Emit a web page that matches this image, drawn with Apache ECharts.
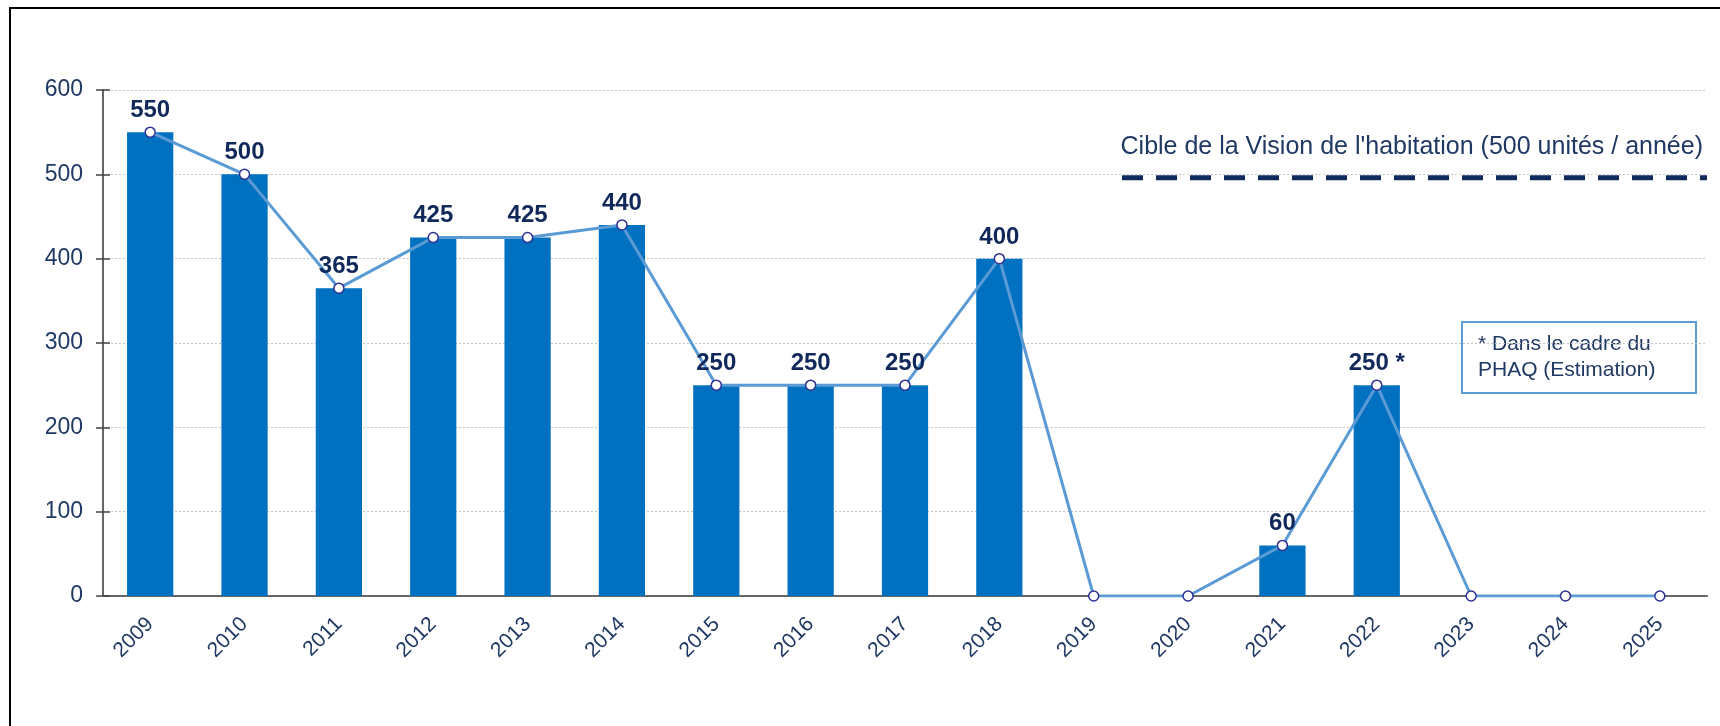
<!DOCTYPE html>
<html>
<head>
<meta charset="utf-8">
<script src="https://cdn.jsdelivr.net/npm/echarts@6/dist/echarts.min.js"></script>
<style>
	html, body { margin: 0; padding: 0; background: #fff; }
	#main { width: 1720px; height: 726px; }
</style>
</head>
<body>
<div id="main"></div>
<script>
var years = ['2009', '2010', '2011', '2012', '2013', '2014', '2015', '2016', '2017', '2018', '2019', '2020', '2021', '2022', '2023', '2024', '2025'];
var units = [550, 500, 365, 425, 425, 440, 250, 250, 250, 400, 0, 0, 60, 250, 0, 0, 0];
var estimatedYears = ['2022'];
var yTicks = [0, 100, 200, 300, 400, 500, 600];
// cible de la vision : ligne tiretée sur la fin du graphique
var targetValue = 496;
var targetSpan = [10.8, 17];
var targetLabel = "Cible de la Vision de l'habitation (500 unités / année)";
var noteLines = ['* Dans le cadre du', 'PHAQ (Estimation)'];

var navy = '#1f3864';
var font = 'Liberation Sans, Arial, sans-serif';

var myChart = echarts.init(document.getElementById('main'));
var option = {
	animation: false,
	grid: {
		left: 103,
		right: 13,
		top: 90,
		bottom: 130
	},
	xAxis: [{
		type: 'category',
		data: years,
		position: 'bottom',
		axisLine: { lineStyle: { color: '#666', width: 2 } },
		axisTick: { length: 7, lineStyle: { color: '#444', width: 1.5 } },
		axisLabel: {
			rotate: 45,
			color: navy,
			fontSize: 21,
			fontFamily: font,
			margin: 25
		}
	}, {
		type: 'category',
		data: years,
		position: 'bottom',
		axisLine: { show: false },
		axisTick: { inside: true, length: 7, lineStyle: { color: '#444', width: 1.5 } },
		axisLabel: { show: false }
	}, {
		type: 'value',
		position: 'top',
		min: 0,
		max: years.length,
		show: false
	}],
	yAxis: [{
		type: 'value',
		min: yTicks[0],
		max: yTicks[yTicks.length - 1],
		interval: yTicks[1] - yTicks[0],
		position: 'left',
		axisLine: { show: true, lineStyle: { color: '#666', width: 2 } },
		axisTick: { show: true, length: 7, lineStyle: { color: '#444', width: 1.5 } },
		axisLabel: {
			color: navy,
			fontSize: 23,
			fontFamily: font,
			margin: 20
		},
		splitLine: { lineStyle: { color: '#c4c4c4', type: [2, 2], width: 1 } }
	}, {
		type: 'value',
		min: yTicks[0],
		max: yTicks[yTicks.length - 1],
		interval: yTicks[1] - yTicks[0],
		position: 'left',
		axisLine: { show: false },
		axisTick: { show: true, inside: true, length: 7, lineStyle: { color: '#444', width: 1.5 } },
		axisLabel: { show: false },
		splitLine: { show: false }
	}],
	series: [{
		name: 'Unités',
		type: 'bar',
		data: units,
		barWidth: '49%',
		itemStyle: { color: '#0070c0' },
		z: 2
	}, {
		name: 'Tendance',
		type: 'line',
		data: units,
		symbol: 'circle',
		symbolSize: 10,
		lineStyle: { color: '#5b9bd5', width: 3 },
		itemStyle: { color: '#fff', borderColor: '#2e3192', borderWidth: 1.5 },
		label: {
			show: true,
			position: 'top',
			distance: 4,
			color: '#10285a',
			fontSize: 24,
			fontWeight: 'bold',
			fontFamily: font,
			formatter: function(p) {
				if (!p.value) return '';
				return estimatedYears.indexOf(p.name) >= 0 ? p.value + ' *' : String(p.value);
			}
		},
		z: 3
	}, {
		name: 'Cible',
		type: 'line',
		xAxisIndex: 2,
		data: [[targetSpan[0], targetValue], [targetSpan[1], targetValue]],
		symbol: 'none',
		lineStyle: { color: '#0e2a5f', width: 5, type: [21, 13] },
		z: 4
	}],
	graphic: [{
		type: 'rect',
		shape: { x: 10, y: 8, width: 1730, height: 740 },
		style: { fill: 'none', stroke: '#000', lineWidth: 2 },
		silent: true
	}, {
		type: 'text',
		right: 17,
		top: 135,
		style: {
			text: targetLabel,
			fill: navy,
			font: '25px ' + font
		}
	}, {
		type: 'group',
		left: 1461,
		top: 321,
		children: [{
			type: 'rect',
			shape: { x: 0, y: 0, width: 234, height: 71 },
			style: { fill: '#fff', stroke: '#5b9bd5', lineWidth: 2 }
		}, {
			type: 'text',
			x: 16,
			y: 9,
			style: {
				text: noteLines.join('\n'),
				fill: navy,
				font: '21px ' + font,
				lineHeight: 26
			}
		}]
	}]
};
myChart.setOption(option);
</script>
</body>
</html>
